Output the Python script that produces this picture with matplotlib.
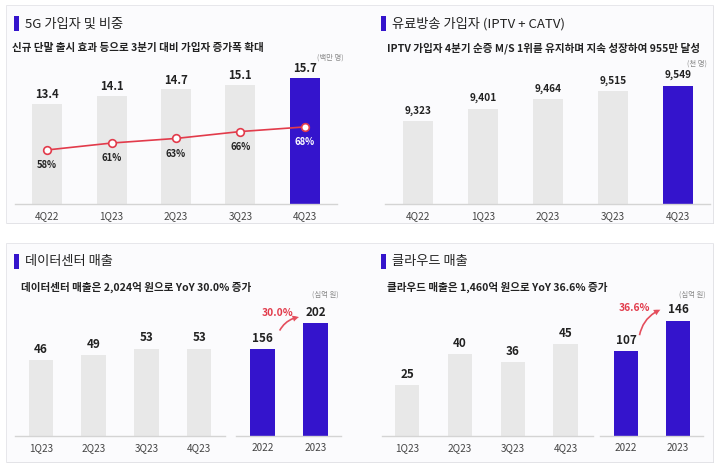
import matplotlib
matplotlib.use('Agg')
import matplotlib.pyplot as plt
from matplotlib.patches import Rectangle

plt.rcParams['font.family'] = ['Noto Sans CJK KR', 'DejaVu Sans']

# 데이터
q_5g = ['4Q22', '1Q23', '2Q23', '3Q23', '4Q23']
subs_5g = [13.4, 14.1, 14.7, 15.1, 15.7]
share_5g = [58, 61, 63, 66, 68]

q_tv = ['4Q22', '1Q23', '2Q23', '3Q23', '4Q23']
subs_tv = [9323, 9401, 9464, 9515, 9549]

q_dc = ['1Q23', '2Q23', '3Q23', '4Q23']
rev_dc_q = [46, 49, 53, 53]
yr_dc = ['2022', '2023']
rev_dc_y = [156, 202]
yoy_dc = '30.0%'

q_cl = ['1Q23', '2Q23', '3Q23', '4Q23']
rev_cl_q = [25, 40, 36, 45]
yr_cl = ['2022', '2023']
rev_cl_y = [107, 146]
yoy_cl = '36.6%'

W, H = 720, 468
PURPLE = '#3414CC'
GREY = '#E8E8E8'
RED = '#E23B4B'
TXT = '#222222'

fig = plt.figure(figsize=(7.2, 4.68), dpi=100)
fig.patch.set_facecolor('white')

# 배경 카드
bg = fig.add_axes([0, 0, 1, 1])
bg.set_xlim(0, W)
bg.set_ylim(H, 0)
bg.axis('off')
for (x0, y0, x1, y1) in [(6, 5, 713, 223), (6, 243, 713, 462)]:
    bg.add_patch(Rectangle((x0 + 1, y0 + 1), x1 - x0, y1 - y0, fc='#c4c4c8', ec='none'))
    bg.add_patch(Rectangle((x0, y0), x1 - x0, y1 - y0, fc='#fbfbfd', ec='#e4e4e8', lw=0.6))


def header(x, y, title, sub, sx, sy):
    bg.add_patch(Rectangle((x - 11, y - 8), 4.5, 15, fc=PURPLE, ec='none'))
    bg.text(x, y, title, fontsize=9.5, color=TXT, va='center', ha='left')
    bg.text(sx, sy, sub, fontsize=7.6, color=TXT, va='center', ha='left', fontweight='bold')


header(25, 24, '5G 가입자 및 비중', '신규 단말 출시 효과 등으로 3분기 대비 가입자 증가폭 확대', 12, 48)
header(392, 24, '유료방송 가입자 (IPTV + CATV)', 'IPTV 가입자 4분기 순증 M/S 1위를 유지하며 지속 성장하여 955만 달성', 387, 48)
header(25, 262, '데이터센터 매출', '데이터센터 매출은 2,024억 원으로 YoY 30.0% 증가', 21, 287)
header(392, 262, '클라우드 매출', '클라우드 매출은 1,460억 원으로 YoY 36.6% 증가', 387, 287)

unit_kw = dict(fontsize=5.3, color='#888888', ha='center', va='center')
bg.text(330, 58, '(백만 명)', **unit_kw)
bg.text(697, 64, '(천 명)', **unit_kw)
bg.text(325, 295, '(십억 원)', **unit_kw)
bg.text(692, 295, '(십억 원)', **unit_kw)


def px_axes(x0, y0, x1, y1):
    ax = fig.add_axes([x0 / W, 1 - y1 / H, (x1 - x0) / W, (y1 - y0) / H])
    ax.patch.set_alpha(0)
    for s in ['top', 'right', 'left']:
        ax.spines[s].set_visible(False)
    ax.spines['bottom'].set_color('#d4d4d4')
    ax.spines['bottom'].set_linewidth(1.0)
    ax.set_yticks([])
    ax.tick_params(axis='x', length=0, pad=5, labelsize=7.2, labelcolor='#444444')
    return ax


def bars(ax, labels, values, colors, width, fs, fmt='{}', pad=4):
    x = range(len(values))
    ax.bar(x, values, width=width, color=colors, zorder=2)
    ax.set_xticks(list(x))
    ax.set_xticklabels(labels)
    for xi, v in zip(x, values):
        ax.annotate(fmt.format(v), (xi, v), xytext=(0, pad), textcoords='offset points',
                    ha='center', va='bottom', fontsize=fs, fontweight='bold', color=TXT)


# 5G 가입자 및 비중
ax1 = px_axes(15, 60, 337, 204)
bars(ax1, q_5g, subs_5g, [GREY] * 4 + [PURPLE], 0.465, 8.2, pad=2)
ax1.set_xlim(-0.5, 4.5)
ax1.set_ylim(4.55, 17.3)
ax1b = ax1.twinx()
ax1b.axis('off')
ax1b.set_ylim(34.5, 97.1)
ax1b.plot(range(5), share_5g, color=RED, lw=1.2, marker='o', ms=5.5, mfc='white',
          mec=RED, mew=1.2, zorder=3)
for i, p in enumerate(share_5g):
    c = 'white' if i == len(share_5g) - 1 else TXT
    ax1b.annotate(f'{p}%', (i, p), xytext=(0, -11), textcoords='offset points',
                  ha='center', va='center', fontsize=6.8, fontweight='bold', color=c)

# 유료방송 가입자
ax2 = px_axes(385, 60, 710, 204)
bars(ax2, q_tv, subs_tv, [GREY] * 4 + [PURPLE], 0.46, 7.3, fmt='{:,}', pad=4)
ax2.set_xlim(-0.51, 4.49)
ax2.set_ylim(8788, 9717)

# 데이터센터 매출
ax3 = px_axes(15, 300, 225, 436)
bars(ax3, q_dc, rev_dc_q, GREY, 0.46, 8.4, pad=3)
ax3.set_xlim(-0.49, 3.49)
ax3.set_ylim(0, 82.4)
ax3r = px_axes(236, 300, 341, 436)
bars(ax3r, yr_dc, rev_dc_y, PURPLE, 0.47, 8.4, pad=3)
ax3r.set_xlim(-0.5, 1.48)
ax3r.set_ylim(0, 243)
ax3r.annotate('', xy=(0.74, 213), xytext=(0.3, 184),
              arrowprops=dict(arrowstyle='simple,head_width=0.45,head_length=0.45,tail_width=0.12',
                              fc=RED, ec='none', alpha=0.9, connectionstyle='arc3,rad=-0.3'))
ax3r.text(0.28, 219, yoy_dc, color=RED, fontsize=7.4, fontweight='bold', ha='center', va='center')

# 클라우드 매출
ax4 = px_axes(382, 300, 593, 436)
bars(ax4, q_cl, rev_cl_q, GREY, 0.46, 8.4, pad=3)
ax4.set_xlim(-0.48, 3.52)
ax4.set_ylim(0, 66.3)
ax4r = px_axes(600, 300, 703, 436)
bars(ax4r, yr_cl, rev_cl_y, PURPLE, 0.47, 8.4, pad=3)
ax4r.set_xlim(-0.5, 1.48)
ax4r.set_ylim(0, 172)
ax4r.annotate('', xy=(0.71, 161), xytext=(0.25, 124),
              arrowprops=dict(arrowstyle='simple,head_width=0.45,head_length=0.45,tail_width=0.12',
                              fc=RED, ec='none', alpha=0.9, connectionstyle='arc3,rad=-0.3'))
ax4r.text(0.17, 162, yoy_cl, color=RED, fontsize=7.4, fontweight='bold', ha='center', va='center')

plt.savefig('out.png', dpi=100)
